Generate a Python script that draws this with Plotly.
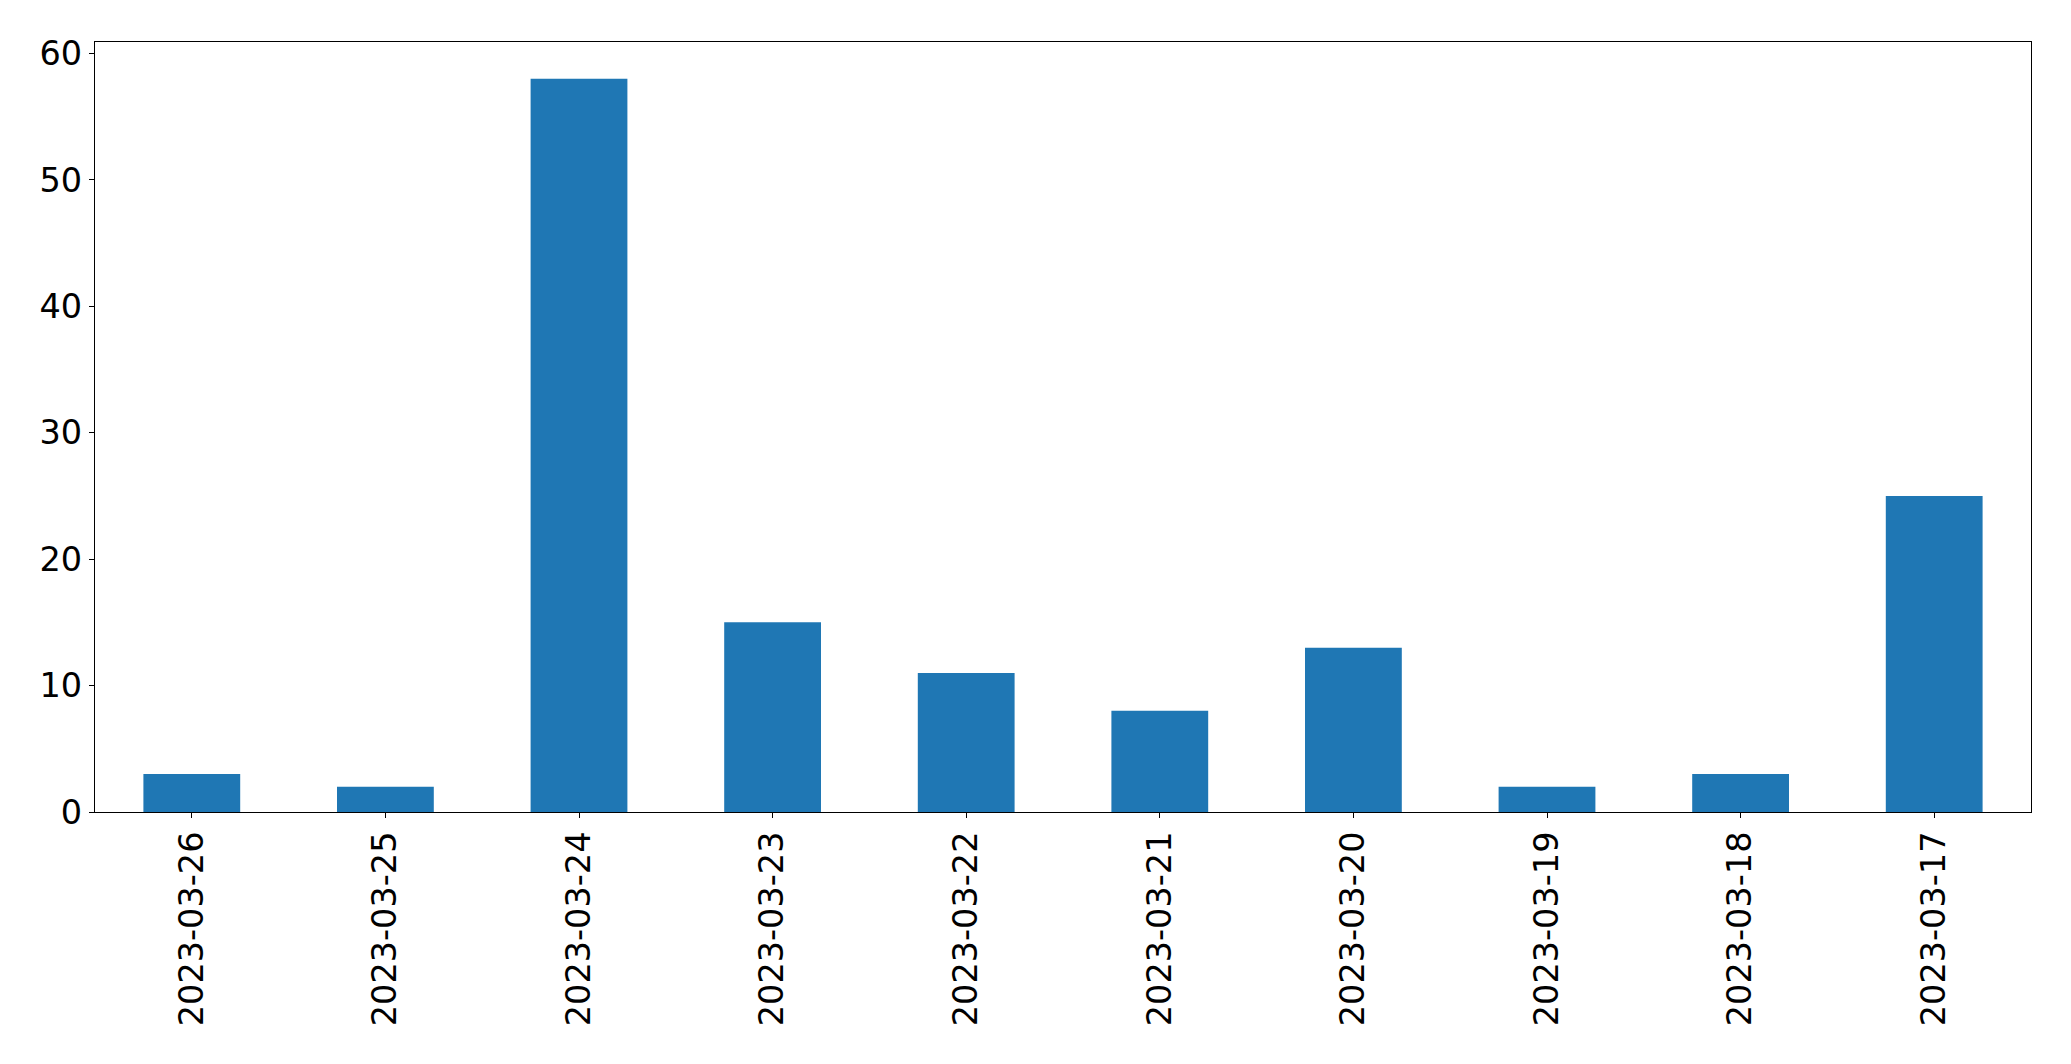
import plotly.graph_objects as go

dates = ["2023-03-26", "2023-03-25", "2023-03-24", "2023-03-23", "2023-03-22",
         "2023-03-21", "2023-03-20", "2023-03-19", "2023-03-18", "2023-03-17"]
counts = [3, 2, 58, 15, 11, 8, 13, 2, 3, 25]
y_ticks = [0, 10, 20, 30, 40, 50, 60]

fig = go.Figure(go.Bar(x=dates, y=counts, width=0.5, marker=dict(color="#1f77b4", line=dict(width=0))))

font = dict(family="DejaVu Sans", size=33.5, color="black")
fig.update_layout(
    width=2063, height=1056,
    margin=dict(l=87, r=40, t=34, b=252),
    plot_bgcolor="white", paper_bgcolor="white",
    showlegend=False,
    font=font,
)
fig.update_xaxes(
    type="category", range=[-0.5, 9.5],
    showline=True, linecolor="black", linewidth=1.3, mirror=True,
    ticks="outside", ticklen=5, tickwidth=1.3, tickcolor="black",
    tickangle=-90, tickfont=font, showgrid=False, zeroline=False,
)
fig.update_yaxes(
    range=[0, 60.9], tickvals=y_ticks,
    showline=True, linecolor="black", linewidth=1.3, mirror=True,
    ticks="outside", ticklen=5, tickwidth=1.3, tickcolor="black",
    tickfont=font, showgrid=False, zeroline=False,
)
fig.write_html("out.html")
